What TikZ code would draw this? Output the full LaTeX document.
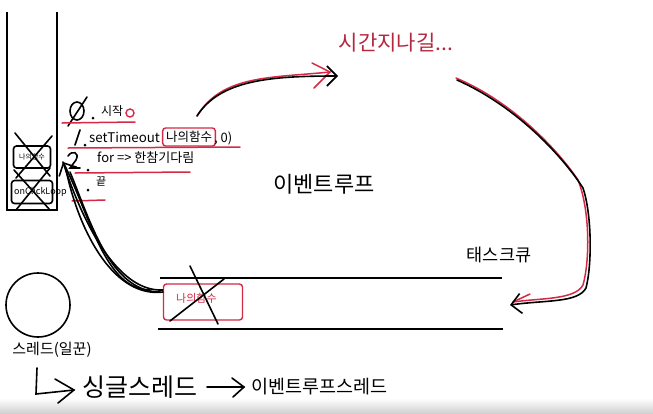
\documentclass[tikz,border=0pt]{standalone}
\usepackage{fontspec}
\setmainfont{Noto Sans CJK KR}
\usetikzlibrary{arrows.meta,shadings}
\definecolor{penred}{HTML}{D42A45}
\definecolor{titlered}{HTML}{B3283F}
\tikzset{
  thickpen/.style={line width=2.6pt},
  pen/.style={line width=1.6pt,line cap=round},
  redpen/.style={line width=1.5pt,penred,line cap=round},
  lbl/.style={inner sep=0pt,anchor=west},
  redbox/.style={draw=penred,line width=1.4pt,rounded corners=3pt},
  blackbox/.style={draw,line width=1.6pt,rounded corners=3pt},
  barb/.style={-{Straight Barb[length=10pt,width=20pt,line width=1.6pt]}},
  dotmark/.style={circle,fill,inner sep=0pt,minimum size=3pt},
}
\begin{document}
\begin{tikzpicture}[x=1pt,y=-1pt]
\useasboundingbox (0,0) rectangle (653,413);
\shade[top color=white,bottom color=black!18] (0,398) rectangle (653,413);

% stack
\draw[thickpen] (7,12) -- (7,210) -- (57,210) -- (57,12);
\node[blackbox,minimum width=37pt,minimum height=22pt,font=\fontsize{7}{8}\selectfont] (f1) at (32,157) {나의함수};
\node[blackbox,minimum width=41pt,minimum height=23pt] (f2) at (32,192) {};
\node[lbl,font=\fontsize{9}{10}\selectfont] (f2t) at (14,192) {onClickLoop};
\draw[pen] (15,133) -- (50,176);
\draw[pen] (52,136) -- (16,178);
\draw[pen] (14,170) -- (50,210);
\draw[pen] (50,168) -- (16,210);

% code lines
\draw[pen] (77,111) ellipse (7 and 9);
\draw[pen] (68,126) -- (87,97);
\node[dotmark] (d0) at (93,118) {};
\node[lbl,font=\fontsize{12}{14}\selectfont] (t0) at (101,111) {시작};
\node[draw=penred,line width=1.4pt,circle,inner sep=0pt,minimum size=8pt] (o0) at (130,113) {};
\draw[redpen] (62,123) -- (135,122);

\draw[pen] (80,130) -- (75,145);
\node[dotmark] (d1) at (85,145) {};
\node[lbl,font=\fontsize{13.3}{15}\selectfont] (t1) at (89,137) {setTimeout};
\node[redbox,minimum width=50pt,minimum height=18pt,font=\fontsize{12.5}{14}\selectfont] (fn) at (189,137) {나의함수};
\node[lbl,font=\fontsize{13}{15}\selectfont] (t1b) at (214,138) {, 0)};
\draw[redpen] (68,148) -- (240,147);

\draw[pen] (68,156) .. controls (72,150) and (80,152) .. (76,160) -- (70,168) -- (80,168);
\node[dotmark] (d2) at (88,170) {};
\node[lbl,font=\fontsize{13}{15}\selectfont] (t2) at (97,158) {for => 한참기다림};
\draw[redpen] (75,173) -- (190,172);

\node[dotmark] (d3) at (88,190) {};
\node[lbl,font=\fontsize{11}{12}\selectfont] (t3) at (96,182) {끝};
\draw[redpen] (72,201) -- (105,200);

% labels
\node[font=\fontsize{22}{24}\selectfont] (loop) at (324,184) {이벤트루프};
\node[font=\fontsize{21}{23}\selectfont,text=titlered] (wait) at (396,43) {시간지나길...};
\node[font=\fontsize{17.5}{19}\selectfont] (tq) at (499,255) {태스크큐};

% queue
\draw[line width=2.2pt] (160,278) -- (502,278);
\draw[line width=2.2pt] (158,329) -- (503,329);
\node[redbox,minimum width=79pt,minimum height=36pt] (qf) at (203,302) {};
\node[lbl,font=\fontsize{11}{12}\selectfont,text=penred] (qft) at (176,298) {나의함수};
\draw[pen] (190,266) -- (218,324);
\draw[pen] (170,321) -- (224,279);

% thread
\node[draw,line width=1.6pt,circle,minimum size=64pt] (th) at (38,305) {};
\node[font=\fontsize{15}{16}\selectfont] (thl) at (52,350) {스레드(일꾼)};

% bottom line
\node[lbl,font=\fontsize{25}{27}\selectfont] (single) at (82,387) {싱글스레드};
\node[lbl,font=\fontsize{18.5}{20}\selectfont] (evth) at (251,387) {이벤트루프스레드};
\coordinate (lstart) at (37,368);
\draw[pen] (lstart) -- (36,394) -- (74,390);
\draw[pen] (55,379) -- (74,390) -- (58,403);
\coordinate (a2s) at (207,387);
\draw[pen] (a2s) -- (244,387);
\draw[pen] (232,378) -- (244,387) -- (233,397);

% arrow: setTimeout -> time
\coordinate (c1s) at (197,116);
\coordinate (c1e) at (338,76);
\draw[redpen] (c1s) .. controls (222,75) and (270,78) .. (330,72);
\draw[redpen] (330,72) -- (312,63);
\draw[redpen] (330,72) -- (314,88);
\draw[pen,barb] (c1s) .. controls (220,80) and (270,76) .. (c1e);

% arrow: time -> queue
\coordinate (c2s) at (457,80);
\coordinate (c2e) at (510,305);
\draw[redpen] (456,78) .. controls (520,105) and (565,160) .. (578,180) .. controls (590,210) and (590,260) .. (583,285) .. controls (575,300) and (540,298) .. (513,302);
\draw[redpen] (513,302) -- (530,294);
\draw[pen,barb] (c2s) .. controls (520,108) and (565,160) .. (583,188) .. controls (592,215) and (592,265) .. (586,288) .. controls (578,303) and (545,300) .. (c2e);

% arrows: queue -> stack
\coordinate (c3e) at (63,162);
\draw[pen] (qf.west) ++(0,-12) .. controls (120,292) and (85,230) .. (c3e);
\draw[pen] (163,292) .. controls (115,298) and (80,235) .. (66,170);
\draw[pen] (160,292) .. controls (110,292) and (90,220) .. (70,172);
\draw[pen,barb] (150,290) .. controls (105,290) and (90,215) .. (c3e);
\end{tikzpicture}
\end{document}
